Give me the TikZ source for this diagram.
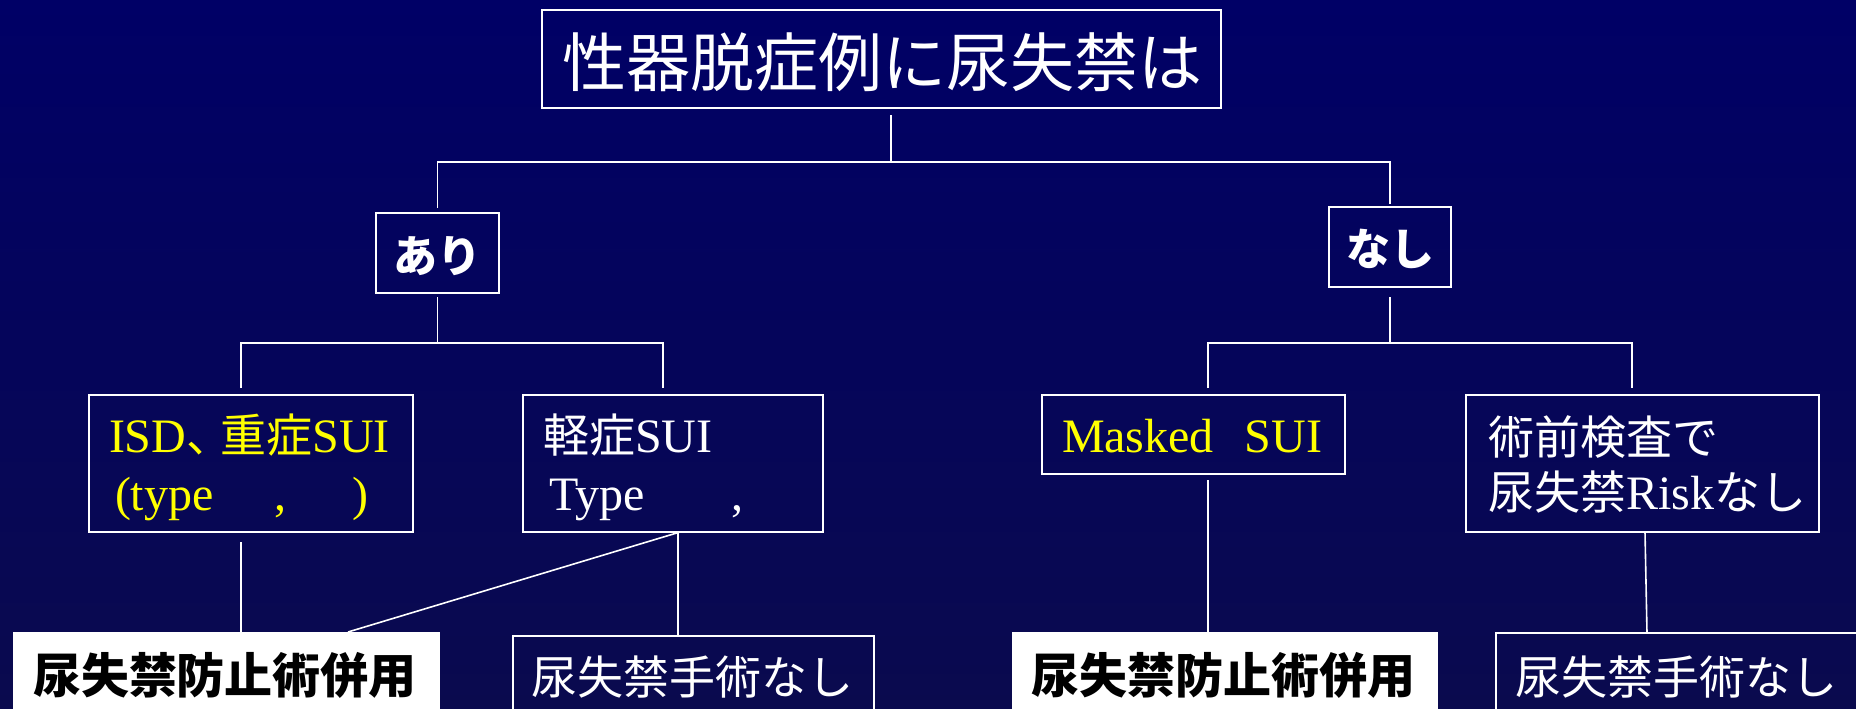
\documentclass[tikz,border=0pt]{standalone}
\usepackage{fontspec}
\setmainfont{Liberation Serif}
\newfontfamily\cjk{Noto Sans CJK JP}
\usetikzlibrary{calc}
\definecolor{bgtop}{RGB}{0,0,102}
\definecolor{bgbot}{RGB}{10,10,78}
\definecolor{ylw}{RGB}{255,255,0}
\newcommand{\jp}[1]{{\cjk\fontsize{46}{58}\selectfont #1}}
\begin{document}
\begin{tikzpicture}[x=1pt,y=-1pt,
  box/.style={draw=white, line width=2.5pt, inner sep=0pt, outer sep=0pt},
  wbox/.style={fill=white, draw=white, line width=1pt, inner sep=0pt, outer sep=0pt},
  conn/.style={draw=white, line width=1.6pt},
  txt/.style={inner sep=0pt, outer sep=0pt},
  lat/.style={inner sep=0pt, outer sep=0pt, anchor=base west, font=\fontsize{48}{58}\selectfont},
  jpb/.style={font=\cjk\bfseries\fontsize{#1}{#1}\selectfont},
  jpr/.style={font=\cjk\fontsize{#1}{#1}\selectfont}]
\useasboundingbox (0,0) rectangle (1856,709);
\shade[top color=bgtop, bottom color=bgbot] (0,0) rectangle (1856,709);
\begin{scope}
\clip (0,0) rectangle (1856,709);
% boxes
\node[box, minimum width=679pt, minimum height=98pt] (top) at (881.5,59) {};
\node[txt, white, jpr=64] (ttl) at (882.5,62) {性器脱症例に尿失禁は};
\node[box, minimum width=123pt, minimum height=80pt] (ari) at (437.5,253) {};
\node[txt, white, jpb=44] (aritxt) at (437.5,256.5) {あり};
\node[box, minimum width=122pt, minimum height=80pt] (nashi) at (1390,247) {};
\node[txt, white, jpb=44] (nashitxt) at (1390.5,249) {なし};

\node[box, minimum width=324pt, minimum height=137pt] (isd) at (251,463.5) {};
\node[lat, ylw] (isd1) at (109,452) {ISD\jp{、\kern-12pt 重症}SUI};
\node[lat, ylw] (isd2) at (115,510) {(type\hspace{61pt},\hspace{66pt})};

\node[box, minimum width=300pt, minimum height=137pt] (mild) at (673,463.5) {};
\node[lat, white] (mild1) at (543,452) {\jp{軽症}SUI};
\node[lat, white] (mild2) at (549,510) {Type\hspace{87pt},};

\node[box, minimum width=303pt, minimum height=79pt] (mask) at (1193.5,434.5) {};
\node[lat, ylw] (masktxt) at (1062,452) {Masked\hspace{31pt}SUI};

\node[box, minimum width=353pt, minimum height=137pt] (pre) at (1642.5,463.5) {};
\node[lat, white] (pre1) at (1488,454) {\jp{術前検査で}};
\node[lat, white] (pre2) at (1488,509) {\jp{尿失禁}Risk\jp{なし}};

\node[wbox, anchor=north west, minimum width=426pt, minimum height=100pt] (comb1) at (13,632) {};
\node[txt, black, jpb=48] (comb1txt) at (225,675) {尿失禁防止術併用};
\node[box, anchor=north west, minimum width=361pt, minimum height=100pt] (none1) at (513,636) {};
\node[txt, white, jpr=46] (none1txt) at (692,677.5) {尿失禁手術なし};
\node[wbox, anchor=north west, minimum width=425pt, minimum height=100pt] (comb2) at (1012,632) {};
\node[txt, black, jpb=48] (comb2txt) at (1223.5,675) {尿失禁防止術併用};
\node[box, anchor=north west, minimum width=370pt, minimum height=100pt] (none2) at (1496,633) {};
\node[txt, white, jpr=46] (none2txt) at (1676,677) {尿失禁手術なし};

% connectors
\coordinate (j1) at (891,162);
\draw[conn] ($(top.south -| j1)+(0,7)$) -- (j1);
\draw[conn] ($(ari.north)+(0,-5)$) |- (j1) -| ($(nashi.north)+(0,-3)$);
\coordinate (j2) at (437.5,343);
\draw[conn] ($(ari.south)+(0,4)$) -- (j2);
\draw[conn] ($(isd.north)+(-10,-7)$) |- (j2) -| ($(mild.north)+(-10,-7)$);
\coordinate (j3) at (1390,343);
\draw[conn] ($(nashi.south)+(0,10)$) -- (j3);
\draw[conn] ($(mask.north)+(14.5,-7)$) |- (j3) -| ($(pre.north)+(-10.5,-7)$);

\coordinate (b1) at ($(isd.south)+(-10,10)$);
\draw[conn] (b1) -- (b1 |- comb1.north);
\draw[conn] ($(mild.south)+(7,0)$) -- ($(comb1.north west)+(335,0)$);
\draw[conn] ($(mild.south)+(5,0)$) -- ($(none1.north west)+(165,0)$);
\coordinate (b2) at ($(mask.south)+(14.5,6)$);
\draw[conn] (b2) -- (b2 |- comb2.north);
\draw[conn] ($(pre.south)+(2.5,0)$) -- ($(none2.north west)+(151,0)$);
\end{scope}
\end{tikzpicture}
\end{document}
